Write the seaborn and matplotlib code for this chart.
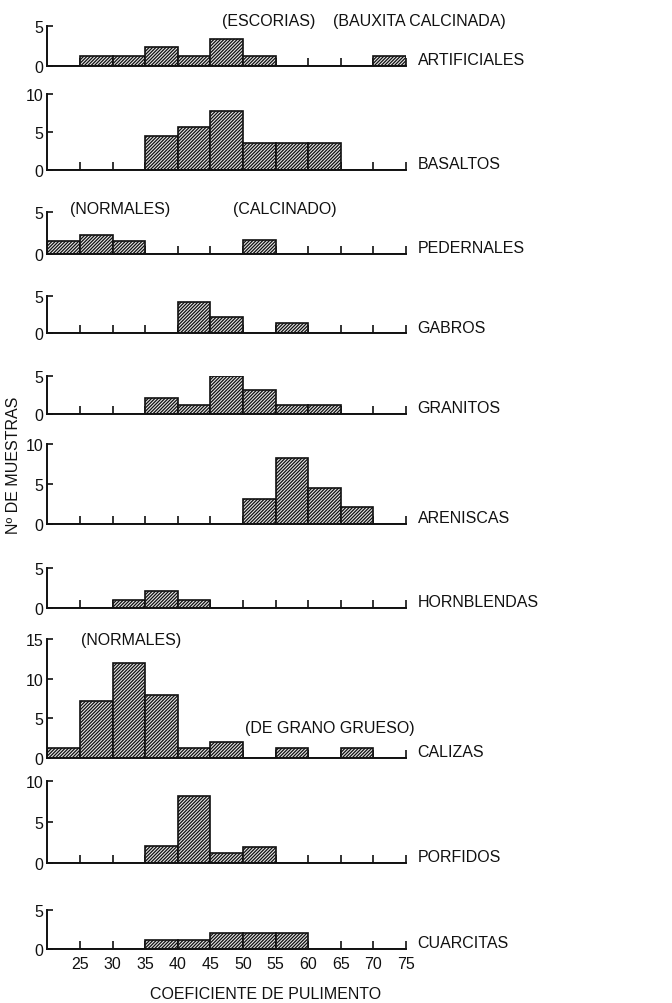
import numpy as np
import pandas as pd
import matplotlib
matplotlib.use("Agg")
import matplotlib.pyplot as plt
import seaborn as sns

# polishing coefficient bins (width 5)
bin_edges = [20, 25, 30, 35, 40, 45, 50, 55, 60, 65, 70, 75]
x_ticks = [25, 30, 35, 40, 45, 50, 55, 60, 65, 70, 75]

# left edge of each filled bin and number of samples
artificiales_bins = [25, 30, 35, 40, 45, 50, 70]
artificiales_counts = [1.2, 1.2, 2.3, 1.2, 3.4, 1.2, 1.2]
basaltos_bins = [35, 40, 45, 50, 55, 60]
basaltos_counts = [4.5, 5.7, 7.7, 3.5, 3.5, 3.5]
pedernales_bins = [20, 25, 30, 50]
pedernales_counts = [1.5, 2.3, 1.5, 1.7]
gabros_bins = [40, 45, 55]
gabros_counts = [4.2, 2.1, 1.3]
granitos_bins = [35, 40, 45, 50, 55, 60]
granitos_counts = [2.1, 1.2, 4.9, 3.1, 1.2, 1.2]
areniscas_bins = [50, 55, 60, 65]
areniscas_counts = [3.1, 8.3, 4.5, 2.1]
hornblendas_bins = [30, 35, 40]
hornblendas_counts = [1.0, 2.2, 1.0]
calizas_bins = [20, 25, 30, 35, 40, 45, 55, 65]
calizas_counts = [1.2, 7.2, 12.0, 8.0, 1.2, 2.0, 1.2, 1.2]
porfidos_bins = [35, 40, 45, 50]
porfidos_counts = [2.1, 8.2, 1.2, 2.0]
cuarcitas_bins = [35, 40, 45, 50, 55]
cuarcitas_counts = [1.15, 1.15, 2.1, 2.1, 2.1]

rock_names = ["ARTIFICIALES", "BASALTOS", "PEDERNALES", "GABROS", "GRANITOS",
              "ARENISCAS", "HORNBLENDAS", "CALIZAS", "PORFIDOS", "CUARCITAS"]
all_bins = [artificiales_bins, basaltos_bins, pedernales_bins, gabros_bins,
            granitos_bins, areniscas_bins, hornblendas_bins, calizas_bins,
            porfidos_bins, cuarcitas_bins]
all_counts = [artificiales_counts, basaltos_counts, pedernales_counts,
              gabros_counts, granitos_counts, areniscas_counts,
              hornblendas_counts, calizas_counts, porfidos_counts,
              cuarcitas_counts]
y_max = [5, 10, 5, 5, 5, 10, 5, 15, 10, 5]

# sub-group notes: (panel, x centre, y, text)
notes = [
    (0, 54.0, 5.6, "(ESCORIAS)"),
    (0, 77.0, 5.6, "(BAUXITA CALCINADA)"),
    (2, 31.1, 5.4, "(NORMALES)"),
    (2, 56.4, 5.4, "(CALCINADO)"),
    (7, 32.9, 15.0, "(NORMALES)"),
    (7, 63.3, 3.9, "(DE GRANO GRUESO)"),
]

# layout in pixels (figure 672 x 1004)
W, H = 672, 1004
x_left, x_right = 47.4, 406
baselines = [67, 171, 255, 334, 415, 525, 609, 759, 864, 950]
tops = [26.7, 95, 213.3, 296.7, 376.7, 445, 569.3, 640, 781.7, 911]

sns.set_style("white")
plt.rcParams["font.family"] = ["Liberation Sans", "DejaVu Sans"]
plt.rcParams["hatch.linewidth"] = 0.9
fs = 11.5

fig = plt.figure(figsize=(W / 100, H / 100), dpi=100)

for i, name in enumerate(rock_names):
    b, t = baselines[i], tops[i]
    ax = fig.add_axes([x_left / W, 1 - b / H, (x_right - x_left) / W, (b - t) / H])
    df = pd.DataFrame({"coef": np.array(all_bins[i]) + 2.5, "n": all_counts[i]})
    sns.histplot(data=df, x="coef", weights="n", bins=bin_edges, ax=ax,
                 color="#e6e6e6", edgecolor="#111111", linewidth=1.2,
                 hatch="//////////", alpha=1)
    ax.set_xlim(20, 75)
    ax.set_ylim(0, y_max[i])
    sns.despine(ax=ax)
    for s in ["left", "bottom"]:
        ax.spines[s].set_linewidth(1.4)
        ax.spines[s].set_color("#111111")
    ax.set_xticks(x_ticks)
    ax.set_yticks(range(0, y_max[i] + 1, 5))
    ax.tick_params(axis="x", direction="in", length=5.5, width=1.2, pad=5,
                   labelsize=fs, bottom=True, colors="#111111")
    ax.tick_params(axis="y", direction="in", length=4, width=1.2, pad=3,
                   labelsize=fs, left=True, colors="#111111")
    if i < len(rock_names) - 1:
        ax.set_xticklabels([])
    ax.set_xlabel("")
    ax.set_ylabel("")
    ax.patch.set_alpha(0)
    ax.text(76.8, 0.2, name, fontsize=fs, va="baseline", ha="left",
            color="#111111", clip_on=False)
    for p, nx, ny, txt in notes:
        if p == i:
            ax.text(nx, ny, txt, fontsize=fs, va="center", ha="center",
                    color="#111111", clip_on=False)

fig.text(14 / W, 1 - 465 / H, "Nº DE MUESTRAS", rotation=90, fontsize=fs,
         ha="center", va="center", color="#111111")
fig.text(266 / W, 1 - 995 / H, "COEFICIENTE DE PULIMENTO", fontsize=fs,
         ha="center", va="center", color="#111111")

fig.savefig("out.png", dpi=100, facecolor="white")
